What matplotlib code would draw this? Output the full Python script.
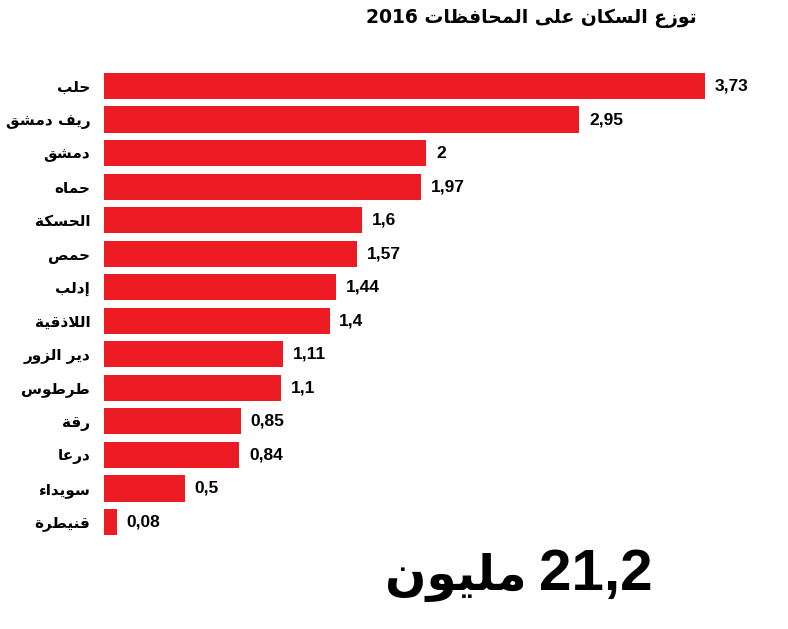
# population by governorate 2016, horizontal bar chart
import matplotlib
matplotlib.use("Agg")
import matplotlib.pyplot as plt

governorates = ["حلب", "ريف دمشق", "دمشق", "حماه", "الحسكة", "حمص", "إدلب",
                "اللاذقية", "دير الزور", "طرطوس", "رقة", "درعا", "سويداء", "قنيطرة"]
population_m = [3.73, 2.95, 2, 1.97, 1.6, 1.57, 1.44, 1.4, 1.11, 1.1, 0.85, 0.84, 0.5, 0.08]
title_text = "توزع السكان على المحافظات"
title_year = "2016"
total_text = "21,2"
total_unit = "مليون"

RED = "#ED1C24"
NUM_FONT = ['Liberation Sans', 'DejaVu Sans']

# matplotlib does no Arabic shaping, so map letters to presentation forms
# and reverse them into visual order.
DUAL = set("ئبتثجحخسشصضطظعغفقكلمنهي")
LETTERS = "ءآأؤإئابةتثجحخدذرزسشصضطظعغفقكلمنهوىي"
FORMS = {}
code = 0xFE80
for ch in LETTERS:
    n = 1 if ch == "ء" else (4 if ch in DUAL else 2)
    FORMS[ch] = [chr(code + k) for k in range(n)]
    code += n
LAM_ALEF = {"ا": 0xFEFB, "إ": 0xFEF9, "أ": 0xFEF7, "آ": 0xFEF5}


def ar(word):
    out = []
    i = 0
    prev_joins = False
    while i < len(word):
        ch = word[i]
        if ch not in FORMS:
            out.append(ch)
            prev_joins = False
            i += 1
            continue
        if ch == "ل" and i + 1 < len(word) and word[i + 1] in LAM_ALEF:
            out.append(chr(LAM_ALEF[word[i + 1]] + (1 if prev_joins else 0)))
            prev_joins = False
            i += 2
            continue
        nxt = word[i + 1] if i + 1 < len(word) else ""
        forms = FORMS[ch]
        join_next = len(forms) == 4 and nxt in FORMS and nxt != "ء"
        if len(forms) == 1:
            f = 0
        elif prev_joins and join_next:
            f = 3
        elif prev_joins:
            f = 1
        elif join_next:
            f = 2
        else:
            f = 0
        out.append(forms[f])
        prev_joins = join_next
        i += 1
    return "".join(reversed(out))


plt.rcParams['font.family'] = ['DejaVu Sans']
fig = plt.figure(figsize=(7.88, 6.29), dpi=100)
ax = fig.add_axes([0.132, 0.1434, 0.8177, 0.7466])

ypos = list(range(len(governorates)))
ax.barh(ypos, population_m, height=0.78, color=RED)
ax.set_xlim(0, 4)
ax.set_ylim(len(governorates) - 0.5, -0.5)
ax.set_yticks(ypos)
ax.set_yticklabels([ar(g) for g in governorates], fontsize=11, fontweight='bold')
ax.set_xticks([])
ax.tick_params(axis='y', length=0, pad=10)
for s in ax.spines.values():
    s.set_visible(False)

for y, v in zip(ypos, population_m):
    lbl = f"{v:g}".replace(".", ",")
    ax.annotate(lbl, (v, y), xytext=(7, 0), textcoords='offset points',
                va='center', ha='left', fontsize=12.5, fontweight='bold',
                family=NUM_FONT)

fig.text(0.674, 0.971, title_year + " " + ar(title_text), ha='center', va='center',
         fontsize=13.5, fontweight='bold')

# big total, number on the right, unit to its left
fig.text(0.828, 0.062, total_text, ha='right', va='baseline',
         fontsize=42, fontweight='bold', family=NUM_FONT)
fig.text(0.668, 0.062, ar(total_unit), ha='right', va='baseline',
         fontsize=35, fontweight='bold')

fig.savefig("out.png", dpi=100)
